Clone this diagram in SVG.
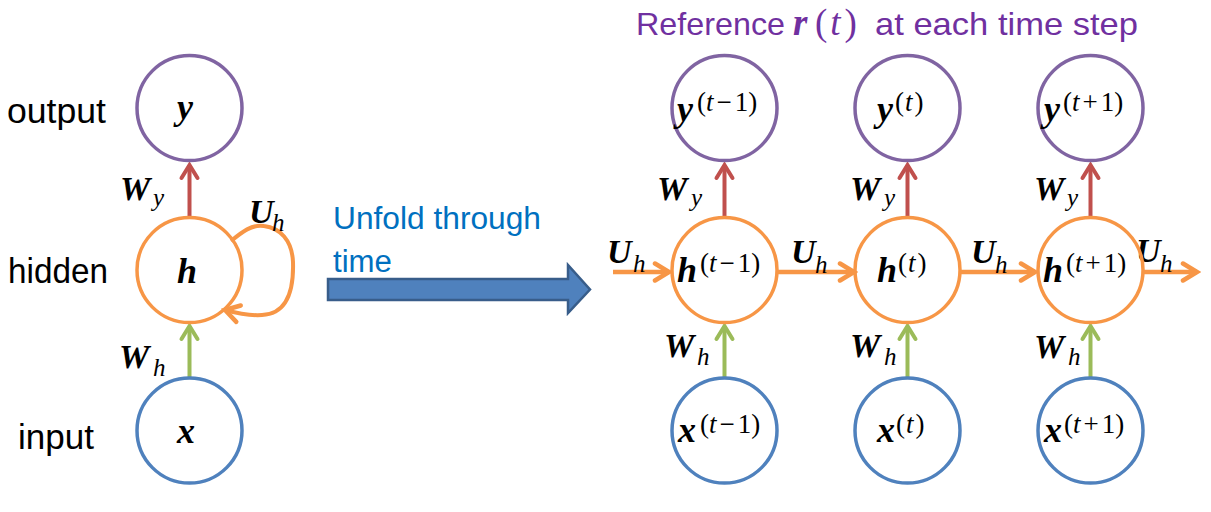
<svg xmlns="http://www.w3.org/2000/svg" width="1211" height="512" viewBox="0 0 1211 512">
<defs>
<style>
.lbl{font-family:"Liberation Sans",Arial,sans-serif;font-size:35px;fill:#000}
.blue{font-family:"Liberation Sans",Arial,sans-serif;font-size:31px;fill:#0070C0}
.ttl{font-family:"Liberation Sans",Arial,sans-serif;font-size:32px;fill:#7030A0}
.mb{font-family:"Liberation Serif","DejaVu Serif",serif;font-weight:bold;font-style:italic}
.node{font-size:36px;fill:#000}
.wt{font-size:34px;fill:#000}
.sup{font-family:"Liberation Serif","DejaVu Serif",serif;font-size:27px;fill:#000}
.it{font-style:italic}
.sub{font-family:"Liberation Serif","DejaVu Serif",serif;font-style:italic;font-size:25px;fill:#000}
.cy{fill:none;stroke:#8064A2;stroke-width:3.5}
.ch{fill:none;stroke:#F79646;stroke-width:3.5}
.cx{fill:none;stroke:#4F81BD;stroke-width:3.5}
.ry{stroke:#C0504D;stroke-width:4;fill:none;marker-end:url(#mr)}
.gh{stroke:#9BBB59;stroke-width:4;fill:none;marker-end:url(#mg)}
.oh{stroke:#F79646;stroke-width:4.5;fill:none;marker-end:url(#mo)}
</style>
<marker id="mr" viewBox="-18 -12 22 24" refX="0" refY="0" markerWidth="22" markerHeight="24" markerUnits="userSpaceOnUse" orient="auto"><path d="M-13,-8 L0,0 L-13,8" fill="none" stroke="#C0504D" stroke-width="4" stroke-linecap="round"/></marker>
<marker id="mg" viewBox="-18 -12 22 24" refX="0" refY="0" markerWidth="22" markerHeight="24" markerUnits="userSpaceOnUse" orient="auto"><path d="M-13,-8 L0,0 L-13,8" fill="none" stroke="#9BBB59" stroke-width="4" stroke-linecap="round"/></marker>
<marker id="mo" viewBox="-18 -12 22 24" refX="0" refY="0" markerWidth="22" markerHeight="24" markerUnits="userSpaceOnUse" orient="auto"><path d="M-14,-8.5 L0,0 L-14,8.5" fill="none" stroke="#F79646" stroke-width="4.5" stroke-linecap="round"/></marker>
</defs>
<rect width="1211" height="512" fill="#fff"/>

<!-- left labels -->
<text class="lbl" x="7" y="123" textLength="99" lengthAdjust="spacingAndGlyphs">output</text>
<text class="lbl" x="8" y="283" textLength="100" lengthAdjust="spacingAndGlyphs">hidden</text>
<text class="lbl" x="18" y="449" textLength="76" lengthAdjust="spacingAndGlyphs">input</text>

<!-- title -->
<text class="ttl" y="35"><tspan x="636" textLength="149" lengthAdjust="spacingAndGlyphs">Reference</tspan><tspan x="793" class="mb" style="font-size:37px">r</tspan><tspan x="815" style="font-family:'Liberation Serif',serif;font-size:37px">(<tspan class="it" dx="3">t</tspan><tspan dx="4">)</tspan></tspan><tspan x="875" textLength="263" lengthAdjust="spacingAndGlyphs">at each time step</tspan></text>

<!-- unfold -->
<g id="unfold">
<text class="blue" x="333" y="229" textLength="208" lengthAdjust="spacingAndGlyphs">Unfold through</text>
<text class="blue" x="333" y="272" textLength="59" lengthAdjust="spacingAndGlyphs">time</text>
<polygon points="328,279 568,279 568,265 590,289.5 568,313 568,300 328,300" fill="#4F81BD" stroke="#385D8A" stroke-width="2.5" stroke-linejoin="miter"/>
</g>

<!-- connectors -->
<g id="connectors">
<line class="ry" x1="189.5" y1="218" x2="189.5" y2="165"/>
<line class="gh" x1="189.5" y1="378" x2="189.5" y2="326"/>
<path class="oh" style="stroke-width:4" d="M231,241 C242,232 252,224 264,226 C280,228 292,240 293,262 C294,295 285,314 262,315 C248,316 236,313 225,310"/>
<line class="ry" x1="724.5" y1="218" x2="724.5" y2="165"/>
<line class="ry" x1="907.5" y1="218" x2="907.5" y2="165"/>
<line class="ry" x1="1090.5" y1="218" x2="1090.5" y2="165"/>
<line class="gh" x1="724.5" y1="378" x2="724.5" y2="326"/>
<line class="gh" x1="907.5" y1="378" x2="907.5" y2="326"/>
<line class="gh" x1="1090.5" y1="378" x2="1090.5" y2="326"/>
<line class="oh" x1="613" y1="272" x2="669" y2="272"/>
<line class="oh" x1="777" y1="272" x2="854" y2="272"/>
<line class="oh" x1="960" y1="272" x2="1035" y2="272"/>
<line class="oh" x1="1143" y1="272" x2="1197" y2="272"/>
</g>

<!-- connector labels -->
<g id="weights">
<text class="mb wt" x="120" y="200">W</text><text class="sub" x="153" y="206">y</text>
<text class="mb wt" x="119" y="368">W</text><text class="sub" x="153" y="376">h</text>
<text class="mb wt" x="249" y="223">U</text><text class="sub" x="272" y="231">h</text>

<text class="mb wt" x="657" y="200">W</text><text class="sub" x="691" y="206">y</text>
<text class="mb wt" x="850" y="200">W</text><text class="sub" x="884" y="206">y</text>
<text class="mb wt" x="1034" y="200">W</text><text class="sub" x="1067" y="206">y</text>

<text class="mb wt" x="664" y="357">W</text><text class="sub" x="697" y="365">h</text>
<text class="mb wt" x="850" y="357">W</text><text class="sub" x="884" y="365">h</text>
<text class="mb wt" x="1034" y="358">W</text><text class="sub" x="1068" y="365">h</text>

<text class="mb wt" x="607" y="263">U</text><text class="sub" x="633" y="272">h</text>
<text class="mb wt" x="791" y="263">U</text><text class="sub" x="815" y="273">h</text>
<text class="mb wt" x="971" y="263">U</text><text class="sub" x="995" y="273">h</text>
<text class="mb wt" x="1136" y="262">U</text><text class="sub" x="1160" y="272">h</text>
</g>

<!-- left nodes -->
<g id="node-y"><circle class="cy" cx="189.5" cy="108" r="52.5"/><text class="mb node" x="177" y="119">y</text></g>
<g id="node-h"><circle class="ch" cx="189.5" cy="270" r="52.5"/><text class="mb node" x="177" y="283">h</text></g>
<g id="node-x"><circle class="cx" cx="189.5" cy="430.5" r="52.5"/><text class="mb node" x="177" y="443">x</text></g>

<!-- unfolded nodes -->
<g id="node-y-tm1"><circle class="cy" cx="724.5" cy="108" r="52.5"/><text class="mb node" x="677" y="121">y</text><text class="sup" x="697" y="111">(<tspan class="it">t</tspan><tspan dx="3">−</tspan><tspan dx="3">1</tspan>)</text></g>
<g id="node-y-t"><circle class="cy" cx="907.5" cy="108" r="52.5"/><text class="mb node" x="877" y="121">y</text><text class="sup" x="895" y="111">(<tspan class="it" dx="1">t</tspan><tspan dx="2">)</tspan></text></g>
<g id="node-y-tp1"><circle class="cy" cx="1090.5" cy="108" r="52.5"/><text class="mb node" x="1044" y="121">y</text><text class="sup" x="1063" y="111">(<tspan class="it">t</tspan><tspan dx="3">+</tspan><tspan dx="3">1</tspan>)</text></g>

<g id="node-h-tm1"><circle class="ch" cx="724.5" cy="270" r="52.5"/><text class="mb node" x="677" y="282">h</text><text class="sup" x="700" y="272">(<tspan class="it">t</tspan><tspan dx="3">−</tspan><tspan dx="3">1</tspan>)</text></g>
<g id="node-h-t"><circle class="ch" cx="907.5" cy="270" r="52.5"/><text class="mb node" x="877" y="282">h</text><text class="sup" x="898" y="272">(<tspan class="it" dx="1">t</tspan><tspan dx="2">)</tspan></text></g>
<g id="node-h-tp1"><circle class="ch" cx="1090.5" cy="270" r="52.5"/><text class="mb node" x="1043" y="282">h</text><text class="sup" x="1066" y="272">(<tspan class="it">t</tspan><tspan dx="3">+</tspan><tspan dx="3">1</tspan>)</text></g>

<g id="node-x-tm1"><circle class="cx" cx="724.5" cy="430.5" r="52.5"/><text class="mb node" x="678" y="442">x</text><text class="sup" x="700" y="433">(<tspan class="it">t</tspan><tspan dx="3">−</tspan><tspan dx="3">1</tspan>)</text></g>
<g id="node-x-t"><circle class="cx" cx="907.5" cy="430.5" r="52.5"/><text class="mb node" x="877" y="442">x</text><text class="sup" x="896" y="433">(<tspan class="it" dx="1">t</tspan><tspan dx="2">)</tspan></text></g>
<g id="node-x-tp1"><circle class="cx" cx="1090.5" cy="430.5" r="52.5"/><text class="mb node" x="1044" y="442">x</text><text class="sup" x="1064" y="433">(<tspan class="it">t</tspan><tspan dx="3">+</tspan><tspan dx="3">1</tspan>)</text></g>
</svg>
